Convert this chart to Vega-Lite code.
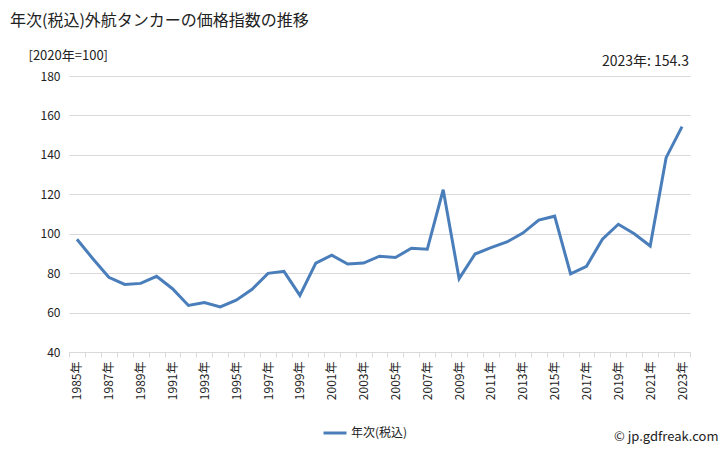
{
  "$schema": "https://vega.github.io/schema/vega-lite/v6.json",
  "autosize": {"type": "none"},
  "width": 621,
  "height": 276,
  "padding": {"left": 69, "top": 76, "right": 38, "bottom": 98},
  "background": "white",
  "config": {
    "font": "Noto Sans CJK JP",
    "view": {"stroke": null}
  },
  "title": {
    "text": "年次(税込)外航タンカーの価格指数の推移",
    "anchor": "start",
    "frame": "group",
    "orient": "top",
    "dx": -59,
    "offset": 20,
    "fontSize": 16,
    "fontWeight": "normal",
    "color": "#222222",
    "font": "Noto Sans CJK JP"
  },
  "data": {
    "values": [
      {"year": 1985, "value": 97.2, "series": "年次(税込)"},
      {"year": 1986, "value": 87.3, "series": "年次(税込)"},
      {"year": 1987, "value": 77.9, "series": "年次(税込)"},
      {"year": 1988, "value": 74.3, "series": "年次(税込)"},
      {"year": 1989, "value": 74.8, "series": "年次(税込)"},
      {"year": 1990, "value": 78.4, "series": "年次(税込)"},
      {"year": 1991, "value": 72.1, "series": "年次(税込)"},
      {"year": 1992, "value": 63.6, "series": "年次(税込)"},
      {"year": 1993, "value": 65.1, "series": "年次(税込)"},
      {"year": 1994, "value": 62.9, "series": "年次(税込)"},
      {"year": 1995, "value": 66.3, "series": "年次(税込)"},
      {"year": 1996, "value": 71.8, "series": "年次(税込)"},
      {"year": 1997, "value": 79.9, "series": "年次(税込)"},
      {"year": 1998, "value": 80.9, "series": "年次(税込)"},
      {"year": 1999, "value": 68.7, "series": "年次(税込)"},
      {"year": 2000, "value": 85.1, "series": "年次(税込)"},
      {"year": 2001, "value": 89.1, "series": "年次(税込)"},
      {"year": 2002, "value": 84.6, "series": "年次(税込)"},
      {"year": 2003, "value": 85.1, "series": "年次(税込)"},
      {"year": 2004, "value": 88.6, "series": "年次(税込)"},
      {"year": 2005, "value": 87.9, "series": "年次(税込)"},
      {"year": 2006, "value": 92.6, "series": "年次(税込)"},
      {"year": 2007, "value": 92.1, "series": "年次(税込)"},
      {"year": 2008, "value": 122.3, "series": "年次(税込)"},
      {"year": 2009, "value": 77.2, "series": "年次(税込)"},
      {"year": 2010, "value": 89.7, "series": "年次(税込)"},
      {"year": 2011, "value": 92.9, "series": "年次(税込)"},
      {"year": 2012, "value": 95.8, "series": "年次(税込)"},
      {"year": 2013, "value": 100.3, "series": "年次(税込)"},
      {"year": 2014, "value": 106.9, "series": "年次(税込)"},
      {"year": 2015, "value": 108.9, "series": "年次(税込)"},
      {"year": 2016, "value": 79.6, "series": "年次(税込)"},
      {"year": 2017, "value": 83.5, "series": "年次(税込)"},
      {"year": 2018, "value": 97.2, "series": "年次(税込)"},
      {"year": 2019, "value": 104.8, "series": "年次(税込)"},
      {"year": 2020, "value": 100.0, "series": "年次(税込)"},
      {"year": 2021, "value": 93.8, "series": "年次(税込)"},
      {"year": 2022, "value": 138.6, "series": "年次(税込)"},
      {"year": 2023, "value": 154.3, "series": "年次(税込)"}
    ]
  },
  "encoding": {
    "x": {
      "field": "year",
      "type": "ordinal",
      "bandPosition": 0.5,
      "scale": {"type": "band", "paddingInner": 0, "paddingOuter": 0},
      "axis": {
        "title": "© jp.gdfreak.com",
        "titleX": 649,
        "titleY": 84,
        "titleAlign": "right",
        "titleBaseline": "middle",
        "titleAnchor": null,
        "titleFontSize": 13,
        "titleFontWeight": "normal",
        "titleColor": "#222222",
        "tickBand": "extent",
        "labelExpr": "datum.value % 2 == 1 ? datum.value + '年' : ''",
        "labelAngle": -90,
        "labelFontSize": 12,
        "labelColor": "#222222",
        "labelPadding": 4,
        "labelOverlap": false,
        "domainColor": "#d9d9d9",
        "tickColor": "#d9d9d9",
        "tickSize": 5,
        "grid": false
      }
    },
    "y": {
      "field": "value",
      "type": "quantitative",
      "scale": {"domain": [40, 180], "nice": false, "zero": false},
      "axis": {
        "values": [40, 60, 80, 100, 120, 140, 160, 180],
        "title": "[2020年=100]",
        "titleAngle": 0,
        "titleX": -41,
        "titleY": -21,
        "titleAlign": "left",
        "titleBaseline": "middle",
        "titleFontSize": 13,
        "titleFontWeight": "normal",
        "titleColor": "#222222",
        "labelFontSize": 12,
        "labelColor": "#222222",
        "labelPadding": 9,
        "domain": false,
        "ticks": false,
        "gridColor": "#d9d9d9",
        "gridWidth": 1
      }
    }
  },
  "layer": [
    {
      "mark": {"type": "line", "strokeWidth": 3},
      "encoding": {
        "color": {
          "field": "series",
          "type": "nominal",
          "scale": {"range": ["#4a7ebb"]},
          "legend": {
            "title": null,
            "orient": "none",
            "legendX": 253,
            "legendY": 344,
            "symbolType": "stroke",
            "symbolStrokeWidth": 3,
            "symbolSize": 529,
            "labelFontSize": 12,
            "labelColor": "#222222",
            "labelOffset": 3
          }
        }
      }
    },
    {
      "transform": [{"filter": "datum.year == 2023"}],
      "mark": {
        "type": "text",
        "align": "right",
        "baseline": "middle",
        "dx": 7,
        "dy": -14,
        "fontSize": 14,
        "color": "#222222"
      },
      "encoding": {
        "y": {"datum": 180},
        "text": {"value": "2023年: 154.3"}
      }
    }
  ]
}
